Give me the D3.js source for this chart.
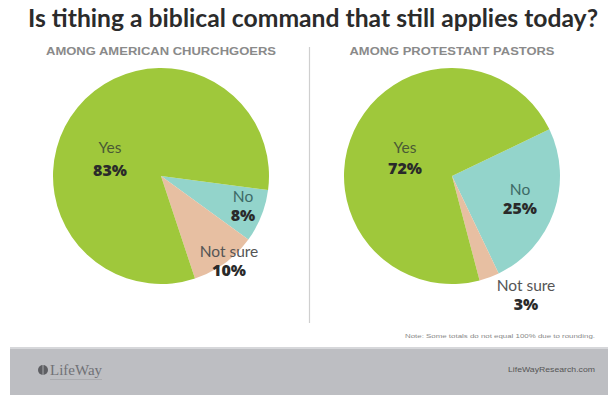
<!DOCTYPE html>
<html><head><meta charset="utf-8">
<script src="https://cdn.jsdelivr.net/npm/d3@7"></script>
<style>html,body{margin:0;padding:0;background:#fff;}svg{display:block;}</style>
</head><body>
<svg id="c" width="608" height="395"></svg>
<script>
const title = "Is tithing a biblical command that still applies today?";
const panelTitles = ["AMONG AMERICAN CHURCHGOERS", "AMONG PROTESTANT PASTORS"];
const categories = ["No", "Not sure", "Yes"];
const churchgoers = [8, 10, 83];
const pastors = [25, 3, 72];
const colors = ["#93d4cb", "#e7bfa2", "#9fc83b"];
const note = "Note: Some totals do not equal 100% due to rounding.";
const site = "LifeWayResearch.com";

const svg = d3.select("#c");
svg.append("rect").attr("width",608).attr("height",395).attr("fill","#fff");

svg.append("text").attr("x",313).attr("y",27).attr("text-anchor","middle")
  .attr("font-family","Lato, 'Open Sans', sans-serif").attr("font-weight","bold")
  .attr("font-size",24).attr("fill","#2b2b2b")
  .attr("textLength",570).attr("lengthAdjust","spacingAndGlyphs").text(title);

const panels = [
  {values: churchgoers, cx:161, cy:176, r:108, start:97.5, tx:161, tw:230,
   labels:[[243,202,221],[229,257,276],[110,153,176]]},
  {values: pastors, cx:452, cy:176, r:108, start:64.4, tx:452, tw:205,
   labels:[[520,195,214],[526,291,310],[405,153,174]]}
];

panels.forEach((p,i)=>{
  svg.append("text").attr("x",p.tx).attr("y",55).attr("text-anchor","middle")
    .attr("font-family","Liberation Sans, Arial, sans-serif").attr("font-size",10).attr("font-weight","bold")
    .attr("fill","#8a8a8a").attr("textLength",p.tw).attr("lengthAdjust","spacingAndGlyphs")
    .text(panelTitles[i]);
  const a0 = p.start*Math.PI/180;
  const pie = d3.pie().sort(null).startAngle(a0).endAngle(a0+2*Math.PI);
  const arc = d3.arc().innerRadius(0).outerRadius(p.r);
  const g = svg.append("g").attr("transform",`translate(${p.cx},${p.cy})`);
  g.selectAll("path").data(pie(p.values)).join("path")
    .attr("d",arc).attr("fill",(d,j)=>colors[j]);
  p.values.forEach((v,j)=>{
    const [lx,ly1,ly2] = p.labels[j];
    svg.append("text").attr("x",lx).attr("y",ly1).attr("text-anchor","middle")
      .attr("font-family","Lato, 'Open Sans', sans-serif").attr("font-size",15.5)
      .attr("fill", j===2 ? "#4a5a35" : (j===0 ? "#3d6a66" : "#555")).text(categories[j]);
    svg.append("text").attr("x",lx).attr("y",ly2).attr("text-anchor","middle")
      .attr("font-family","'Open Sans', Lato, sans-serif").attr("font-weight","800").attr("font-size",16)
      .attr("fill","#2a2a2a").text(v+"%");
  });
});

svg.append("line").attr("x1",309.5).attr("x2",309.5).attr("y1",47).attr("y2",323)
  .attr("stroke","#cfcfcf").attr("stroke-width",1.2);

svg.append("text").attr("x",595).attr("y",338).attr("text-anchor","end")
  .attr("font-family","Liberation Sans, Arial, sans-serif").attr("font-size",5.5)
  .attr("fill","#888").attr("textLength",190).attr("lengthAdjust","spacingAndGlyphs").text(note);

svg.append("rect").attr("x",10).attr("y",348).attr("width",598).attr("height",47).attr("fill","#bdbec2");
svg.append("rect").attr("x",10).attr("y",347).attr("width",598).attr("height",2).attr("fill","#d6d7da");

// logo
const lg = svg.append("g").attr("transform","translate(38,370)");
lg.append("circle").attr("cx",5).attr("cy",0).attr("r",5).attr("fill","#5e5f63");
lg.append("line").attr("x1",5).attr("x2",5).attr("y1",-5).attr("y2",5).attr("stroke","#bdbec2").attr("stroke-width",0.8);
lg.append("text").attr("x",12).attr("y",5).attr("font-family","Liberation Serif, serif").attr("font-size",15)
  .attr("fill","#707176").text("LifeWay");
lg.append("line").attr("x1",12).attr("x2",64).attr("y1",9.5).attr("y2",9.5).attr("stroke","#9d9ea2").attr("stroke-width",0.6);

svg.append("text").attr("x",595).attr("y",372).attr("text-anchor","end")
  .attr("font-family","Liberation Sans, Arial, sans-serif").attr("font-size",6.5)
  .attr("fill","#555").attr("textLength",87).attr("lengthAdjust","spacingAndGlyphs").text(site);
</script>
</body></html>
